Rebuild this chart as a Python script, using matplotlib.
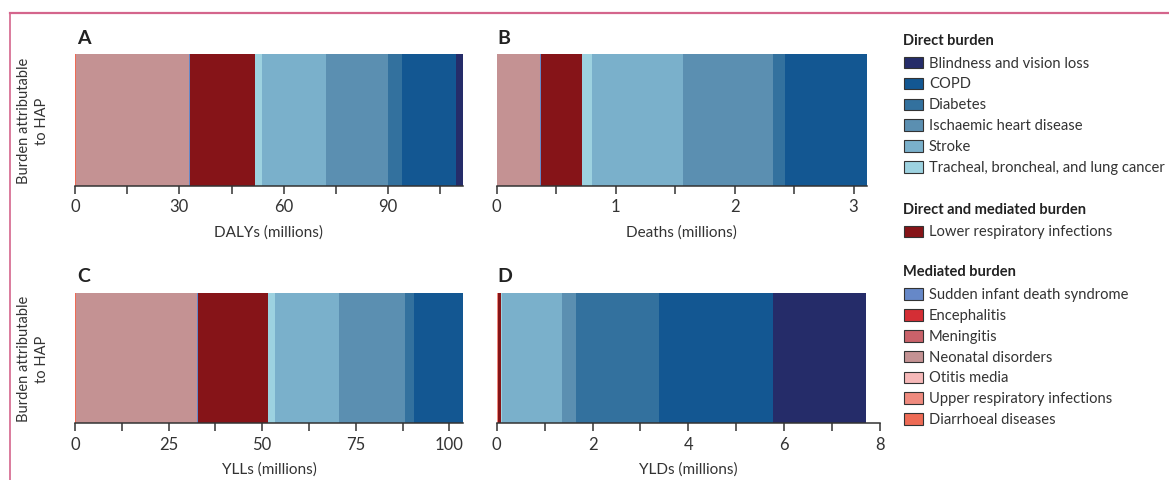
import matplotlib
matplotlib.use("Agg")
import matplotlib.pyplot as plt
from matplotlib.patches import Rectangle
from matplotlib.lines import Line2D

plt.rcParams['font.family'] = ['Lato', 'DejaVu Sans']

# --- Data (stacking order, left to right) ---
causes = ["Diarrhoeal diseases", "Upper respiratory infections", "Otitis media",
          "Neonatal disorders", "Meningitis", "Encephalitis",
          "Sudden infant death syndrome", "Lower respiratory infections",
          "Tracheal, broncheal, and lung cancer", "Stroke",
          "Ischaemic heart disease", "Diabetes", "COPD", "Blindness and vision loss"]
colors = ["#ee6b55", "#ef8a7e", "#f6b8b8", "#c49293", "#c9626a", "#d42e35",
          "#6688c8", "#861418", "#9dd2e0", "#7ab0cb", "#5b8fb1", "#33719e",
          "#135792", "#252c69"]

dalys  = [0.3, 0.05, 0.05, 32.3, 0.05, 0.02, 0.3, 18.7, 2.0, 18.4, 17.9, 4.0, 15.5, 1.9]
deaths = [0.003, 0.0005, 0.0002, 0.36, 0.001, 0.0005, 0.005, 0.345, 0.085,
          0.767, 0.757, 0.101, 0.685, 0.0]
ylls   = [0.3, 0.03, 0.02, 32.2, 0.05, 0.02, 0.2, 18.7, 1.9, 17.1, 17.6, 2.4, 13.2, 0.0]
ylds   = [0.01, 0.01, 0.015, 0.0, 0.0, 0.0, 0.0, 0.062, 0.01, 1.26, 0.296,
          1.734, 2.38, 1.94]

# legend groups (display order)
direct = ["Blindness and vision loss", "COPD", "Diabetes", "Ischaemic heart disease",
          "Stroke", "Tracheal, broncheal, and lung cancer"]
direct_mediated = ["Lower respiratory infections"]
mediated = ["Sudden infant death syndrome", "Encephalitis", "Meningitis",
            "Neonatal disorders", "Otitis media", "Upper respiratory infections",
            "Diarrhoeal diseases"]

W, H = 1169, 481
fig = plt.figure(figsize=(W / 100, H / 100), dpi=100)


def px_axes(x0, y0, x1, y1):
    return fig.add_axes([x0 / W, 1 - y1 / H, (x1 - x0) / W, (y1 - y0) / H])


def stacked(ax, values, xmax, major, minor, xlabel):
    left = 0
    for v, c in zip(values, colors):
        if v > 0:
            ax.barh(0.5, v, height=1, left=left, color=c, linewidth=0)
        left += v
    ax.set_xlim(0, xmax if xmax else left)
    ax.set_ylim(0, 1)
    ax.set_xticks(major)
    ax.set_xticks(minor, minor=True)
    ax.set_yticks([])
    for s in ["top", "right", "left"]:
        ax.spines[s].set_visible(False)
    ax.spines["bottom"].set_color("#333333")
    ax.spines["bottom"].set_linewidth(1.1)
    ax.tick_params(axis="x", which="both", length=6, width=1.1, color="#333333",
                   labelsize=12, labelcolor="#333333", pad=3)
    ax.set_xlabel(xlabel, fontsize=11, color="#333333", labelpad=7)


axA = px_axes(75, 55, 462.7, 187)
stacked(axA, dalys, None, [0, 30, 60, 90], [15, 45, 75, 105], "DALYs (millions)")
axB = px_axes(496.7, 55, 866.7, 187)
stacked(axB, deaths, None, [0, 1, 2, 3], [0.5, 1.5, 2.5], "Deaths (millions)")
axC = px_axes(75, 294, 463.3, 424)
stacked(axC, ylls, None, [0, 25, 50, 75, 100], [12.5, 37.5, 62.5, 87.5],
        "YLLs (millions)")
axD = px_axes(496.7, 294, 880, 424)
stacked(axD, ylds, 8, [0, 2, 4, 6, 8], [1, 3, 5, 7], "YLDs (millions)")

# panel letters
for letter, x, y in [("A", 77, 38), ("B", 497, 38), ("C", 77, 277), ("D", 497, 277)]:
    fig.text(x / W, 1 - y / H, letter, fontsize=14, fontweight="bold",
             color="#222222", va="center", ha="left")

# row y-labels
for yc in [121, 359]:
    fig.text(33 / W, 1 - yc / H, "Burden attributable\nto HAP", rotation=90,
             fontsize=10.5, color="#333333", ha="center", va="center",
             multialignment="center", linespacing=1.3)

# legend (manual)
col = dict(zip(causes, colors))


def legend_title(text, y):
    fig.text(903 / W, 1 - y / H, text, fontsize=10.5, fontweight="bold",
             color="#222222", va="center", ha="left")


def legend_item(name, y):
    fig.patches.append(Rectangle((903.5 / W, 1 - (y + 5.8) / H), 19 / W, 11.6 / H,
                                 transform=fig.transFigure, facecolor=col[name],
                                 edgecolor="#333333", linewidth=0.8))
    fig.text(929 / W, 1 - y / H, name, fontsize=10.6, color="#333333",
             va="center", ha="left")


legend_title("Direct burden", 41)
for i, n in enumerate(direct):
    legend_item(n, 63.5 + i * 20.9)
legend_title("Direct and mediated burden", 210)
legend_item(direct_mediated[0], 232.5)
legend_title("Mediated burden", 272)
for i, n in enumerate(mediated):
    legend_item(n, 295 + i * 20.85)

# frame lines
frame_c = "#d4658c"
fig.add_artist(Line2D([9.5 / W, 1], [1 - 14 / H, 1 - 14 / H],
                      transform=fig.transFigure, color=frame_c, linewidth=1.6))
fig.add_artist(Line2D([9.5 / W, 9.5 / W], [1 - 14 / H, 0],
                      transform=fig.transFigure, color=frame_c, linewidth=1.2))

fig.savefig("out.png", dpi=100)
